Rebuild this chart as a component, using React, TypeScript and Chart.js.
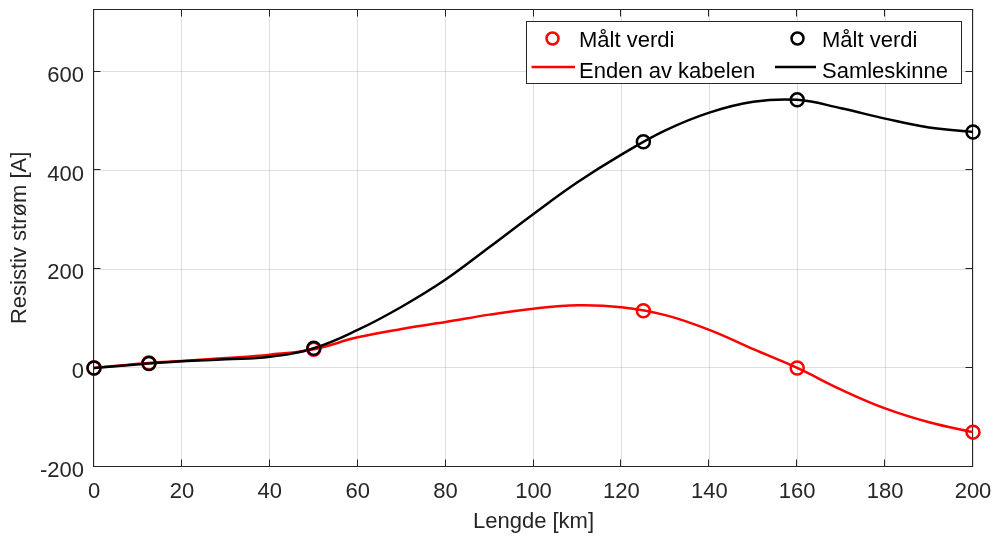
import React, { useEffect, useRef } from "react";
import { Chart, registerables } from "chart.js";

Chart.register(...registerables);

// ---- data ----
const X_TICKS = [0, 20, 40, 60, 80, 100, 120, 140, 160, 180, 200];
const Y_TICKS = [-200, 0, 200, 400, 600];

const MEAS_X = [0, 12.5, 50, 125, 160, 200];
const RED_MEAS = [0, 10, 38, 116, 0, -130];
const BLACK_MEAS = [0, 9, 40, 458, 543, 478];

const CURVE_X = [0, 12.5, 20, 30, 40, 50, 60, 70, 80, 90, 100, 110, 120, 130, 140, 150, 160, 170, 180, 190, 200];
const RED_CURVE = [0, 10, 14, 20, 27, 38, 62, 79, 93, 108, 120, 127, 123, 107, 77, 38, 0, -44, -82, -110, -130];
const BLACK_CURVE = [0, 9, 13.5, 17.5, 22.5, 40, 77, 124, 179, 245, 312, 376, 432, 481, 517, 539, 543, 526, 505, 487, 478];

const LABEL_RED_MEAS = "Målt verdi";
const LABEL_BLACK_MEAS = "Målt verdi";
const LABEL_RED_LINE = "Enden av kabelen";
const LABEL_BLACK_LINE = "Samleskinne";

const X_TITLE = "Lengde [km]";
const Y_TITLE = "Resistiv strøm [A]";

const FONT = "'Liberation Sans', Arial, Helvetica, sans-serif";
const AXIS_COLOR = "#262626";
const GRID_COLOR = "rgba(38,38,38,0.15)";
const RED = "#ff0000";
const BLACK = "#000000";

const pts = (xs: number[], ys: number[]) => xs.map((x, i) => ({ x, y: ys[i] }));

const framePlugin = {
  id: "frame",
  beforeDatasetsDraw(chart: any) {
    const { ctx, chartArea, scales } = chart;
    const { left, top, right, bottom } = chartArea;
    const L = Math.round(left) - 0.5;
    const R = Math.round(right) - 0.5;
    const T = Math.round(top) + 0.5;
    const B = Math.round(bottom) - 0.5;
    ctx.save();
    ctx.strokeStyle = AXIS_COLOR;
    ctx.lineWidth = 1;
    ctx.strokeRect(L, T, R - L, B - T);
    const tl = 7;
    ctx.beginPath();
    X_TICKS.forEach((v) => {
      const px = Math.round(scales.x.getPixelForValue(v)) - 0.5;
      ctx.moveTo(px, B);
      ctx.lineTo(px, B - tl);
      ctx.moveTo(px, T);
      ctx.lineTo(px, T + tl);
    });
    Y_TICKS.forEach((v) => {
      const py = Math.round(scales.y.getPixelForValue(v)) - 0.5;
      ctx.moveTo(L, py);
      ctx.lineTo(L + tl, py);
      ctx.moveTo(R, py);
      ctx.lineTo(R - tl, py);
    });
    ctx.stroke();
    ctx.restore();
  },
};

const legendPlugin = {
  id: "customLegend",
  afterDraw(chart: any) {
    const { ctx } = chart;
    const ds = chart.data.datasets;
    const bx = 526.5, by = 21.5, bw = 435, bh = 62;
    ctx.save();
    ctx.fillStyle = "#ffffff";
    ctx.fillRect(bx, by, bw, bh);
    ctx.strokeStyle = AXIS_COLOR;
    ctx.lineWidth = 1;
    ctx.strokeRect(bx, by, bw, bh);

    ctx.font = `22px ${FONT}`;
    ctx.fillStyle = "#000000";
    ctx.textBaseline = "alphabetic";
    ctx.textAlign = "left";

    const row1 = 38.5, row2 = 67;
    const base1 = 46.5, base2 = 77.5;
    const marker = (cx: number, cy: number, color: string) => {
      ctx.beginPath();
      ctx.strokeStyle = color;
      ctx.lineWidth = 2.5;
      ctx.arc(cx, cy, 6, 0, Math.PI * 2);
      ctx.stroke();
    };
    marker(552.5, row1, ds[2].borderColor);
    ctx.fillText(ds[2].label, 579, base1);
    marker(797.5, row1, ds[3].borderColor);
    ctx.fillText(ds[3].label, 822, base1);
    const seg = (x1: number, x2: number, y: number, color: string) => {
      ctx.beginPath();
      ctx.strokeStyle = color;
      ctx.lineWidth = 2.5;
      ctx.moveTo(x1, y);
      ctx.lineTo(x2, y);
      ctx.stroke();
    };
    seg(531.5, 575, row2, ds[0].borderColor);
    ctx.fillText(ds[0].label, 579, base2);
    seg(775, 816, row2, ds[1].borderColor);
    ctx.fillText(ds[1].label, 822, base2);
    ctx.restore();
  },
};

export default function App() {
  const ref = useRef<HTMLCanvasElement>(null);

  useEffect(() => {
    const tickFont = { family: FONT, size: 22 };
    const chart = new Chart(ref.current as HTMLCanvasElement, {
      type: "line",
      data: {
        datasets: [
          {
            label: LABEL_RED_LINE,
            data: pts(CURVE_X, RED_CURVE),
            borderColor: RED,
            backgroundColor: RED,
            borderWidth: 2.5,
            pointRadius: 0,
            tension: 0.4,
            order: 3,
          },
          {
            label: LABEL_BLACK_LINE,
            data: pts(CURVE_X, BLACK_CURVE),
            borderColor: BLACK,
            backgroundColor: BLACK,
            borderWidth: 2.5,
            pointRadius: 0,
            tension: 0.4,
            order: 2,
          },
          {
            label: LABEL_RED_MEAS,
            data: pts(MEAS_X, RED_MEAS),
            showLine: false,
            borderColor: RED,
            backgroundColor: "rgba(0,0,0,0)",
            pointRadius: 6.5,
            pointBorderWidth: 2.5,
            pointBorderColor: RED,
            pointBackgroundColor: "rgba(0,0,0,0)",
            clip: false,
            order: 1,
          },
          {
            label: LABEL_BLACK_MEAS,
            data: pts(MEAS_X, BLACK_MEAS),
            showLine: false,
            borderColor: BLACK,
            backgroundColor: "rgba(0,0,0,0)",
            pointRadius: 6.5,
            pointBorderWidth: 2.5,
            pointBorderColor: BLACK,
            pointBackgroundColor: "rgba(0,0,0,0)",
            clip: false,
            order: 0,
          },
        ] as any,
      },
      options: {
        responsive: false,
        devicePixelRatio: 1,
        animation: false,
        events: [],
        layout: { padding: { top: 8.7, right: 24, left: 0, bottom: 0 } },
        plugins: {
          legend: { display: false },
          tooltip: { enabled: false },
        },
        scales: {
          x: {
            type: "linear",
            min: 0,
            max: 200,
            afterBuildTicks: (s: any) => {
              s.ticks = X_TICKS.map((v) => ({ value: v }));
            },
            afterFit: (s: any) => {
              s.height = 73.3;
              s.paddingLeft = 0;
              s.paddingRight = 0;
            },
            grid: { color: GRID_COLOR, lineWidth: 1, drawTicks: false },
            border: { display: false },
            ticks: {
              font: tickFont,
              color: AXIS_COLOR,
              padding: 12,
              maxRotation: 0,
              autoSkip: false,
              callback: (v: any) => String(v),
            },
            title: {
              display: true,
              text: X_TITLE,
              font: tickFont,
              color: AXIS_COLOR,
              padding: { top: 0, bottom: 5 },
            },
          },
          y: {
            type: "linear",
            min: -200,
            max: 727,
            afterBuildTicks: (s: any) => {
              s.ticks = Y_TICKS.map((v) => ({ value: v }));
            },
            afterFit: (s: any) => {
              s.width = 94;
              s.paddingTop = 0;
              s.paddingBottom = 0;
            },
            grid: { color: GRID_COLOR, lineWidth: 1, drawTicks: false },
            border: { display: false },
            ticks: {
              font: tickFont,
              color: AXIS_COLOR,
              padding: 10,
              labelOffset: 4,
              autoSkip: false,
              callback: (v: any) => String(v),
            },
            title: {
              display: true,
              text: Y_TITLE,
              font: tickFont,
              color: AXIS_COLOR,
              padding: { top: 7, bottom: 0 },
            },
          },
        },
      } as any,
      plugins: [framePlugin, legendPlugin],
    });
    return () => chart.destroy();
  }, []);

  return (
    <div style={{ position: "fixed", left: 0, top: 0, width: 997, height: 540, background: "#ffffff" }}>
      <canvas ref={ref} width={997} height={540} style={{ display: "block", width: 997, height: 540 }} />
    </div>
  );
}
